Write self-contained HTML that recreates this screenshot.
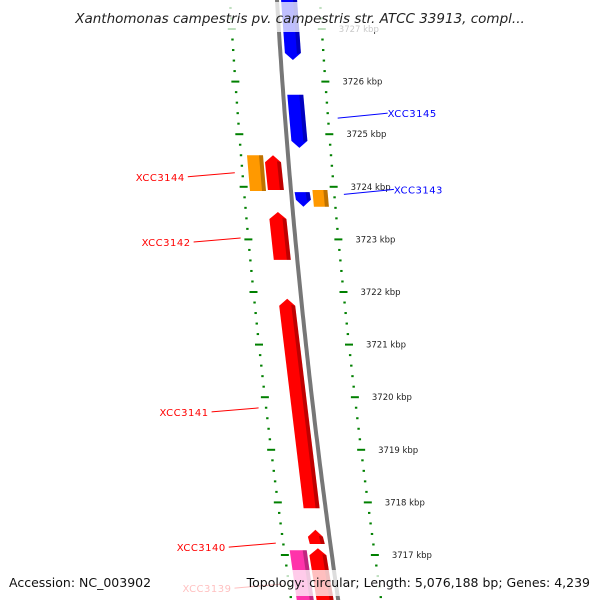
<!DOCTYPE html>
<html><head><meta charset="utf-8"><style>
html,body{margin:0;background:#fff;overflow:hidden;width:600px;height:600px;}
svg{display:block;font-family:"DejaVu Sans","Liberation Sans",sans-serif;}
</style></head><body>
<svg id="chart" width="600" height="600" viewBox="0 0 600 600" xmlns="http://www.w3.org/2000/svg" overflow="hidden">
<g id="ticks"></g>
<path id="backbone" fill="none" stroke="#777" stroke-width="4"/>
<g id="genes"></g>
<g id="labels"></g>
<rect x="0" y="2" width="600" height="30" fill="#fff" fill-opacity="0.75"/>
<text x="300" y="23" text-anchor="middle" font-style="italic" font-size="13.5" fill="#222">Xanthomonas campestris pv. campestris str. ATCC 33913, compl...</text>
<rect x="4" y="570" width="592" height="26" fill="#fff" fill-opacity="0.75"/>
<text x="9" y="587" font-size="12.5" fill="#111">Accession: NC_003902</text>
<text x="590" y="587" text-anchor="end" font-size="12.5" fill="#111">Topology: circular; Length: 5,076,188 bp; Genes: 4,239</text>
</svg>
<script>
const NS="http://www.w3.org/2000/svg";
const kbpTicks=[3727,3726,3725,3724,3723,3722,3721,3720,3719,3718,3717];
const geneStart=[3727.65,3725.75,3723.90,3723.94,3724.60,3724.60,3723.52,3721.87,3717.48,3717.13,3717.09];
const geneEnd  =[3726.41,3724.74,3723.62,3723.62,3723.92,3723.94,3722.61,3717.89,3717.21,3716.00,3716.00];
const geneLane =[12,12,11,29,-33,-15,-15,-14,-13,-13,-33];
const geneWidth=[16,16,15,15,16,16,17,16,15,17,17];
const geneDir  =['down','down','down','none','none','up','up','up','up','up','none'];
const geneColor=['#0000ff','#0000ff','#0000ff','#ff9900','#ff9900','#ff0000','#ff0000','#ff0000','#ff0000','#ff0000','#ff33aa'];
const labelNames=['XCC3145','XCC3143','XCC3144','XCC3142','XCC3141','XCC3140','XCC3139'];
const labelKbp =[3725.40,3723.95,3724.19,3722.95,3719.72,3717.15,3716.37];
const labelSide=[1,1,-1,-1,-1,-1,-1];
const labelColor=['#0000ff','#0000ff','#ff0000','#ff0000','#ff0000','#ff0000','#ff0000'];

function yOf(k){return 29+(3727-k)*52.6;}
function xOf(y){return 277+0.06*y+0.00007*y*y;}
function mk(tag,attrs,parent){const e=document.createElementNS(NS,tag);for(const a in attrs)e.setAttribute(a,attrs[a]);parent.appendChild(e);return e;}

let d="";for(let y=-5;y<=605;y+=5){d+=(y===-5?"M":"L")+xOf(y).toFixed(1)+","+y;}
document.getElementById('backbone').setAttribute('d',d);

const tg=document.getElementById('ticks');
for(let k=3727.6;k>=3716.2;k-=0.2){
  const kk=Math.round(k*10)/10, y=yOf(kk);
  const major=Math.abs(kk-Math.round(kk))<0.01;
  for(const off of [-47,43]){
    const x=xOf(y)+off;
    const t=mk('line',{x1:x-(major?4:1.2),x2:x+(major?4:1.2),y1:y,y2:y,stroke:'#008000','stroke-width':2},tg);
    
    
  }
}
kbpTicks.forEach(k=>{const y=yOf(k);
  const t=mk('text',{x:xOf(y)+60,y:y+3,'font-size':'8.5',fill:'#222'},tg);t.textContent=k+' kbp';
  
  
});

const gg=document.getElementById('genes');
for(let i=0;i<geneStart.length;i++){
  const y1=yOf(geneStart[i]),y2=yOf(geneEnd[i]),w=geneWidth[i],c=geneColor[i];
  const xc1=xOf(y1)+geneLane[i],xc2=xOf(y2)+geneLane[i];
  const h=w/2,ah=7;
  let pts;
  if(geneDir[i]==='down'){
    pts=[[xc1-h,y1],[xc1+h,y1],[xc2+h,y2-ah],[xc2,y2],[xc2-h,y2-ah]];
  }else if(geneDir[i]==='up'){
    pts=[[xc1,y1],[xc1+h,y1+ah],[xc2+h,y2],[xc2-h,y2],[xc1-h,y1+ah]];
  }else{
    pts=[[xc1-h,y1],[xc1+h,y1],[xc2+h,y2],[xc2-h,y2]];
  }
  const p=mk('polygon',{points:pts.map(q=>q[0].toFixed(1)+','+q[1].toFixed(1)).join(' '),fill:c},gg);
  
  
  const s=mk('polygon',{points:[[xc1+h-4,y1+(geneDir[i]==='up'?ah-1:0)],[xc1+h,y1+(geneDir[i]==='up'?ah:0)],[xc2+h,y2-(geneDir[i]==='down'?ah:0)],[xc2+h-4,y2-(geneDir[i]==='down'?ah-1:0)]].map(q=>q[0].toFixed(1)+','+q[1].toFixed(1)).join(' '),fill:'#000','fill-opacity':0.25},gg);
  
  
}

const lg=document.getElementById('labels');
for(let i=0;i<labelNames.length;i++){
  const y=yOf(labelKbp[i]);const bx=xOf(y);
  if(labelSide[i]>0){
    const x0=bx+53,x1=bx+103;
    const l=mk('line',{x1:x0,y1:y+5,x2:x1,y2:y,stroke:labelColor[i],'stroke-width':1},lg);
    
    
    const t=mk('text',{x:x1,y:y+4,'font-size':'10','letter-spacing':'0.5',fill:labelColor[i]},lg);t.textContent=labelNames[i];
    
    
  }else{
    const x0=bx-55,x1=bx-102;
    const l=mk('line',{x1:x0,y1:y-4,x2:x1,y2:y,stroke:labelColor[i],'stroke-width':1},lg);
    
    
    const t=mk('text',{x:x1-3,y:y+4,'font-size':'10','letter-spacing':'0.5','text-anchor':'end',fill:labelColor[i]},lg);t.textContent=labelNames[i];
    
    
  }
}
</script>
</body></html>
